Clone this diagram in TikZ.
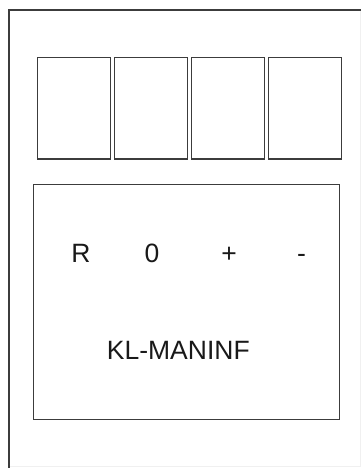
\documentclass[tikz,border=0pt]{standalone}
\usepackage{fontspec}
\setmainfont{Liberation Sans}
\usetikzlibrary{positioning}
\definecolor{FrameCol}{RGB}{60,60,60}
\definecolor{FaintCol}{RGB}{240,240,240}
\tikzset{
  klframe/.style={line width=1.4pt, draw=FrameCol},
  kltile/.style={rectangle, line width=1.4pt, draw=FrameCol, inner sep=0pt, outer sep=0pt,
    minimum width=72.6pt, minimum height=101.3pt},
  klpanel/.style={rectangle, line width=1.4pt, draw=FrameCol, inner sep=0pt, outer sep=0pt,
    minimum width=305.6pt, minimum height=235pt},
  kllab/.style={font=\fontsize{26.5}{28}\selectfont, text=black!90, inner sep=0pt, anchor=base}
}
\begin{document}
\begin{tikzpicture}[x=1pt,y=-1pt]
  \useasboundingbox (0,0) rectangle (361,468);
  % outer housing
  \draw[FaintCol,line width=0.8pt] (360,10) -- (360,466) -- (9,466);
  \draw[klframe] (362,10) -- (9,10) -- (9,470);
  % four tiles on top
  \node[kltile] (tile1) at (74,108.3) {};
  \node[kltile,right=4.4pt of tile1] (tile2) {};
  \node[kltile,right=4.4pt of tile2] (tile3) {};
  \node[kltile,right=4.4pt of tile3] (tile4) {};
  % front panel
  \node[klpanel] (panel) at (186.5,301.8) {};
  \node[kllab] (keyR) at (81,262) {R};
  \node[kllab] (keyZero) at (152,262) {0};
  \node[kllab] (keyPlus) at (229,262) {+};
  \node[kllab] (keyMinus) at (301.5,262) {-};
  \node[kllab] (name) at (178.3,359) {KL-MANINF};
\end{tikzpicture}
\end{document}
